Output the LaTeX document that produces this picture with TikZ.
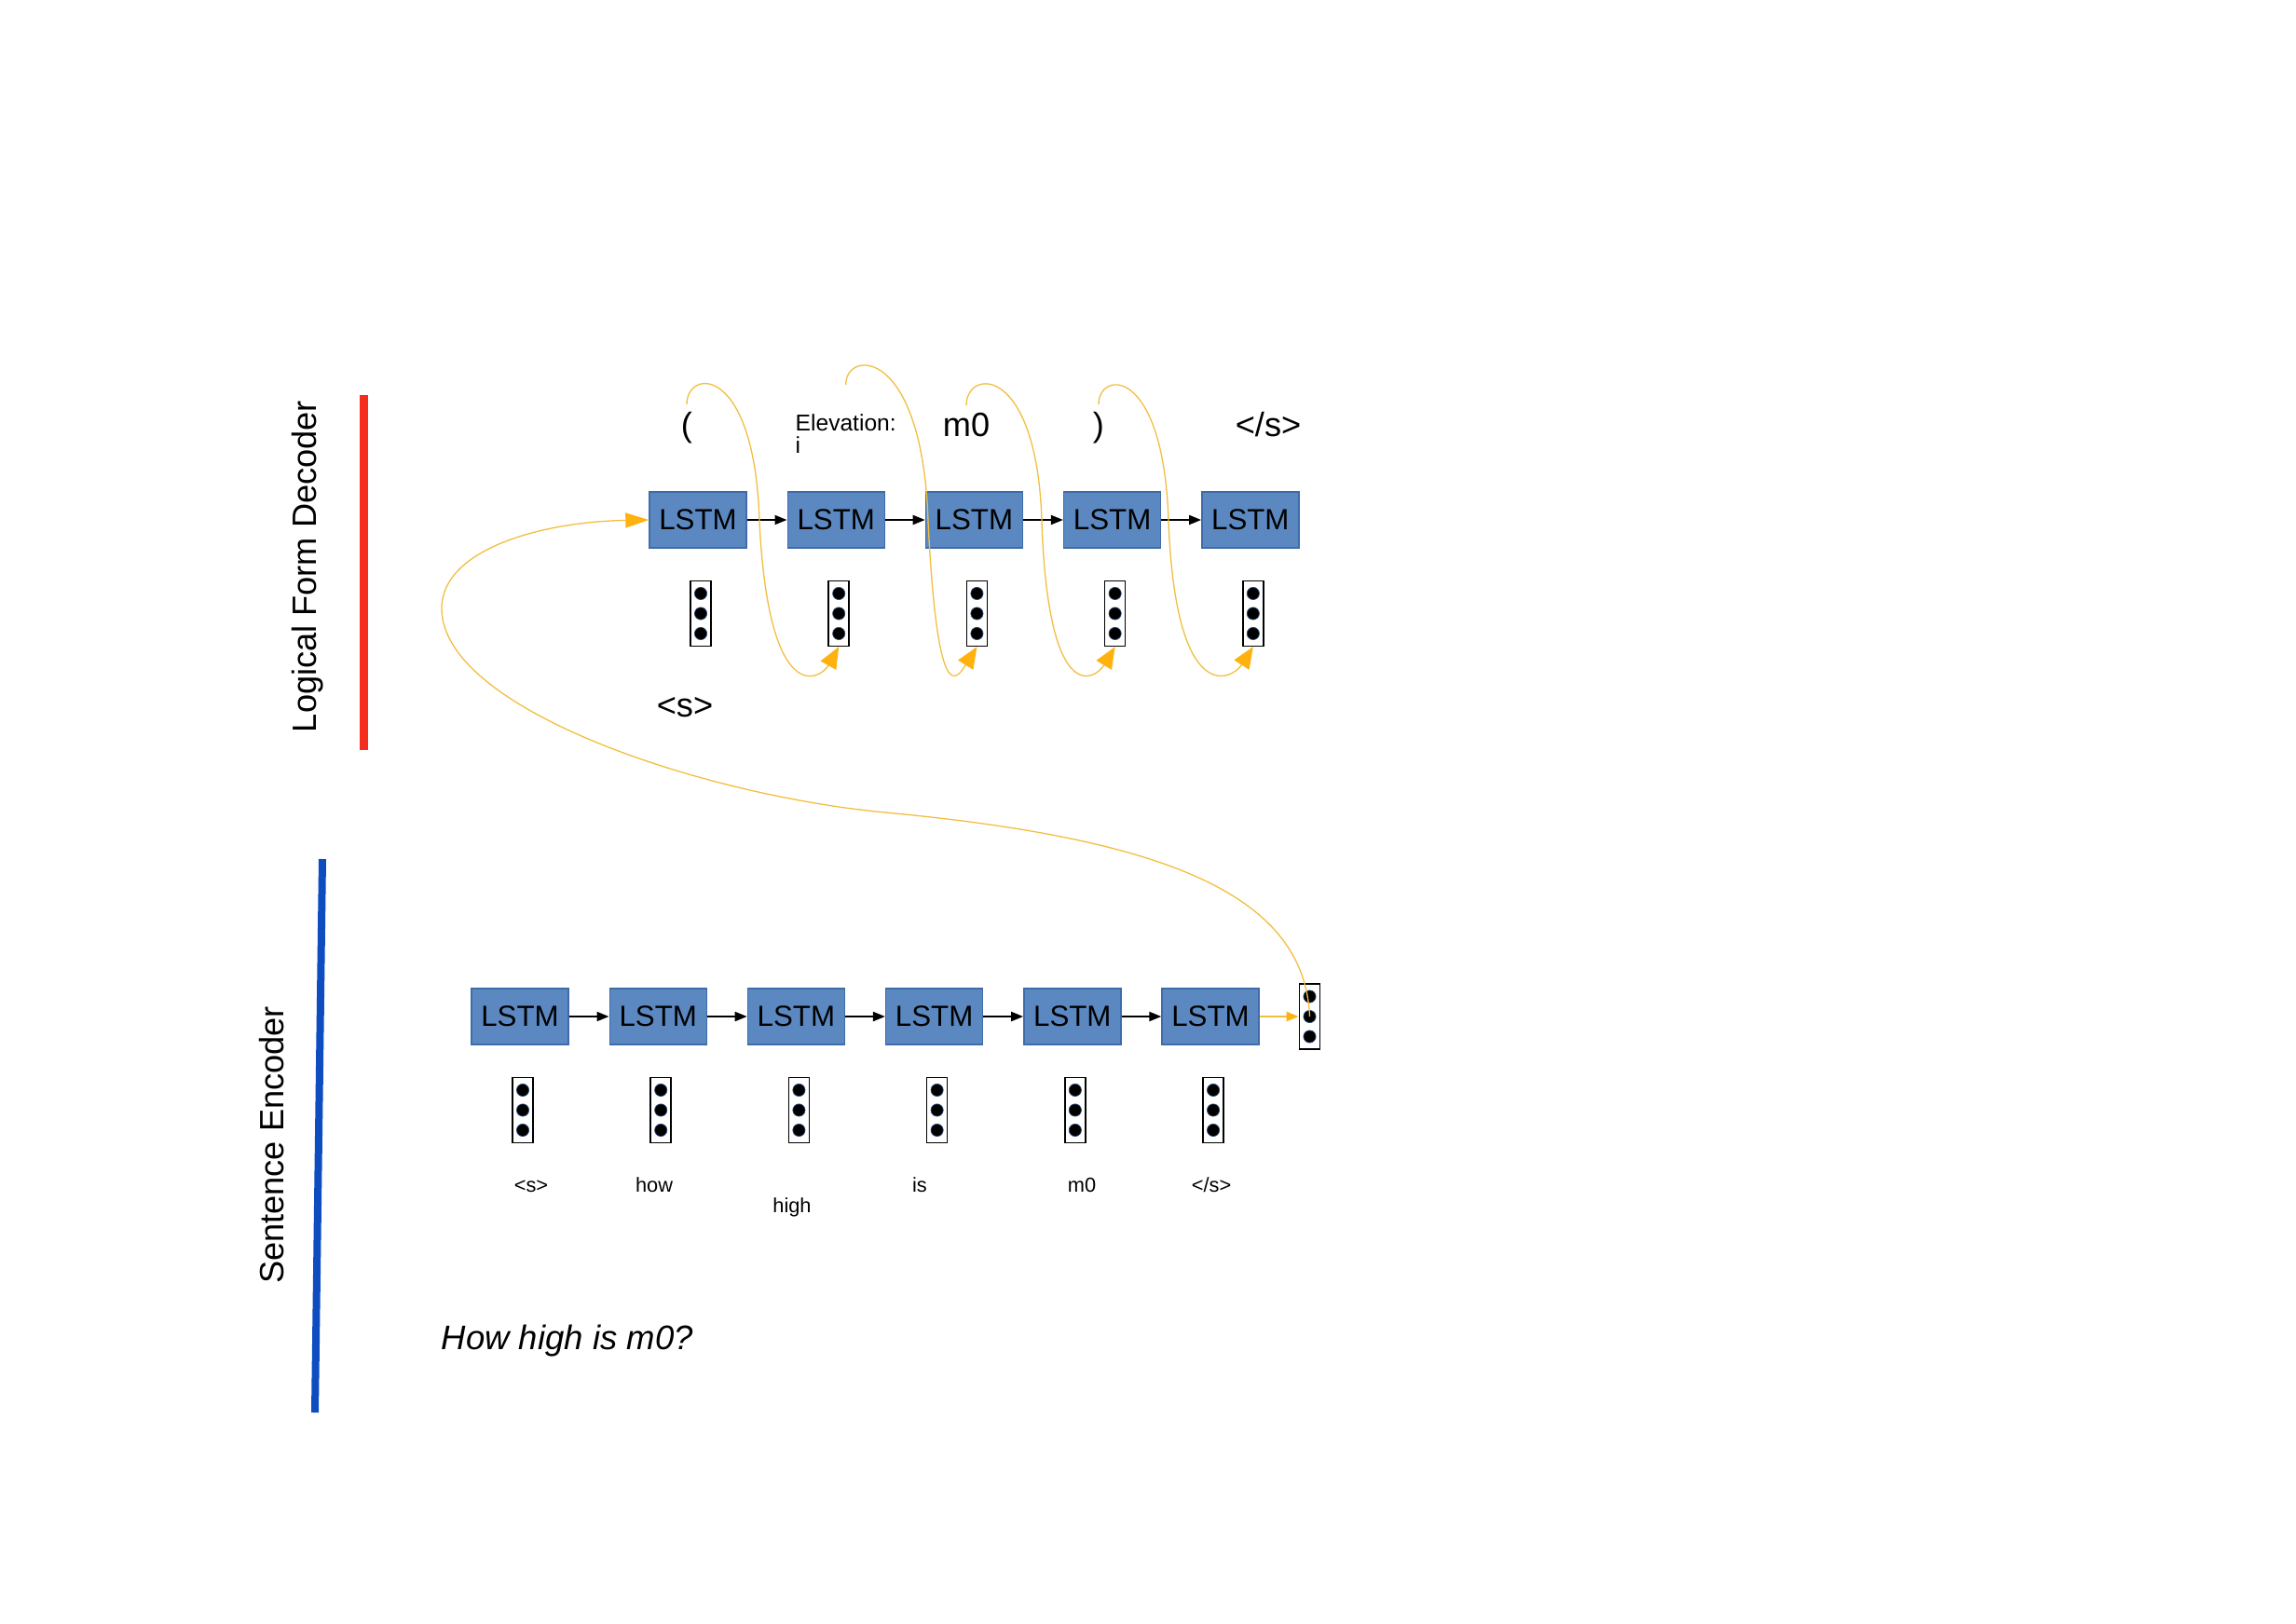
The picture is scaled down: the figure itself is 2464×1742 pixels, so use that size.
\documentclass[tikz,border=0pt]{standalone}
\usepackage{fontspec}
\setmainfont{Liberation Sans}
\usetikzlibrary{arrows,arrows.meta,positioning}

\definecolor{lstmblue}{HTML}{5B88C1}
\definecolor{lstmedge}{HTML}{3D6CA8}
\definecolor{gold}{HTML}{FFB20F}
\definecolor{goldline}{HTML}{F2BE40}
\definecolor{decred}{HTML}{F52D1E}
\definecolor{encblue}{HTML}{0D4DC0}
\definecolor{dotrim}{HTML}{2A4A7A}

\begin{document}
\begin{tikzpicture}[x=0.1mm, y=-0.1mm, node distance=4.28mm,
    lstm/.style={rectangle, draw=lstmedge, fill=lstmblue, line width=0.4pt,
        minimum width=10.4mm, minimum height=6mm, inner sep=0pt,
        font=\fontsize{8.9}{10}\selectfont},
    vec/.style={rectangle, draw=black, fill=white, line width=0.15mm,
        minimum width=2.2mm, minimum height=7mm, inner sep=0pt, xshift=0.3mm,
        path picture={\foreach \dy in {-2.15,0,2.15}
            \filldraw[fill=black, draw=dotrim, line width=0.2pt]
                ([yshift=\dy mm]path picture bounding box.center) circle (0.66mm);}},
    tok/.style={inner sep=2pt, font=\fontsize{10.3}{12}\selectfont},
    word/.style={inner sep=0pt, font=\fontsize{6.2}{7}\selectfont},
    link/.style={-{Triangle[length=1.3mm, width=1mm]}, line width=0.2mm},
    feed/.style={goldline, line width=0.13mm, -{Triangle[length=2.3mm, width=1.9mm, color=gold]}}]

    \useasboundingbox (0,0) rectangle (2464,1742);

    % Side bars and titles
    \draw [decred, line width=0.9mm] (390,424) -- (390,805);
    \draw [encblue, line width=0.8mm] (346,922) -- (338,1516);
    \node [rotate=90, font=\fontsize{10.3}{12}\selectfont] (dectitle) at (330,608) {Logical Form Decoder};
    \node [rotate=90, font=\fontsize{10.3}{12}\selectfont] (enctitle) at (292,1229) {Sentence Encoder};

    % Decoder cells {d1, ..., d5}
    \node [lstm]    (d1) at (749,558)    {LSTM};
    \node [lstm]    (d2) [right=of d1]   {LSTM};
    \node [lstm]    (d3) [right=of d2]   {LSTM};
    \node [lstm]    (d4) [right=of d3]   {LSTM};
    \node [lstm]    (d5) [right=of d4]   {LSTM};

    % Decoder input vectors
    \node [vec]     (vd1) [below=3.4mm of d1] {};
    \node [vec]     (vd2) [below=3.4mm of d2] {};
    \node [vec]     (vd3) [below=3.4mm of d3] {};
    \node [vec]     (vd4) [below=3.4mm of d4] {};
    \node [vec]     (vd5) [below=3.4mm of d5] {};

    % Decoder tokens
    \node [tok, anchor=base]  (lp) at (737,468)  {(};
    \node [inner sep=0pt, anchor=north west, align=left, font=\fontsize{7}{6.9}\selectfont]
                    (el) at (853,444)    {Elevation:\\i};
    \node [tok, anchor=base]  (mp) at (1037,468) {m0};
    \node [tok, anchor=base]  (rp) at (1179,468) {)};
    \node [tok, anchor=base]  (es) at (1361,468) {</s>};
    \node [tok, anchor=base]  (ss) at (735,769)  {<s>};

    % Encoder cells {e1, ..., e6}
    \node [lstm]    (e1) at (558,1091)   {LSTM};
    \node [lstm]    (e2) [right=of e1]   {LSTM};
    \node [lstm]    (e3) [right=of e2]   {LSTM};
    \node [lstm]    (e4) [right=of e3]   {LSTM};
    \node [lstm]    (e5) [right=of e4]   {LSTM};
    \node [lstm]    (e6) [right=of e5]   {LSTM};
    \node [vec]     (ev7) [right=3.9mm of e6] {};

    % Encoder input vectors
    \node [vec]     (ve1) [below=3.4mm of e1] {};
    \node [vec]     (ve2) [below=3.4mm of e2] {};
    \node [vec]     (ve3) [below=3.4mm of e3] {};
    \node [vec]     (ve4) [below=3.4mm of e4] {};
    \node [vec]     (ve5) [below=3.4mm of e5] {};
    \node [vec]     (ve6) [below=3.4mm of e6] {};

    % Encoder words
    \node [word, anchor=base] (w1) at (570,1279)  {<s>};
    \node [word, anchor=base] (w2) at (702,1279)  {how};
    \node [word, anchor=base] (w3) at (850,1301)  {high};
    \node [word, anchor=base] (w4) at (987,1279)  {is};
    \node [word, anchor=base] (w5) at (1161,1279) {m0};
    \node [word, anchor=base] (w6) at (1300,1279) {</s>};

    \node [anchor=west, inner sep=0pt, font=\itshape\fontsize{10.4}{12}\selectfont]
                    (question) at (473,1439) {How high is m0?};

    % Paths
    \path [link]    (d1) edge (d2)  (d2) edge (d3)  (d3) edge (d4)  (d4) edge (d5);
    \path [link]    (e1) edge (e2)  (e2) edge (e3)  (e3) edge (e4)  (e4) edge (e5)  (e5) edge (e6);
    \draw [goldline, line width=0.2mm, -{Triangle[length=1.3mm, width=1mm, color=gold]}] (e6) -- (ev7);

    % Feedback of each token
    \draw [feed] (lp.north) .. controls (737,395) and (810,390) .. (815,560)
                 .. controls (825,760) and (880,730) .. (vd2.south);
    \draw [feed] ([yshift=3.1mm]el.north) .. controls (907,375) and (990,370) .. (996,560)
                 .. controls (1006,760) and (1026,730) .. (vd3.south);
    \draw [feed] (mp.north) .. controls (1037,395) and (1113,390) .. (1118,560)
                 .. controls (1125,760) and (1175,730) .. (vd4.south);
    \draw [feed] (rp.north) .. controls (1179,397) and (1249,392) .. (1254,560)
                 .. controls (1262,760) and (1322,730) .. (vd5.south);

    % Sentence vector into the decoder
    \draw [feed, -{Triangle[length=2.5mm, width=1.6mm, color=gold]}]
          (ev7.center) .. controls (1400,960) and (1250,900) .. (950,872)
          .. controls (750,853) and (474,760) .. (474,653)
          .. controls (474,590) and (580,560) .. (d1.west);

\end{tikzpicture}
\end{document}
